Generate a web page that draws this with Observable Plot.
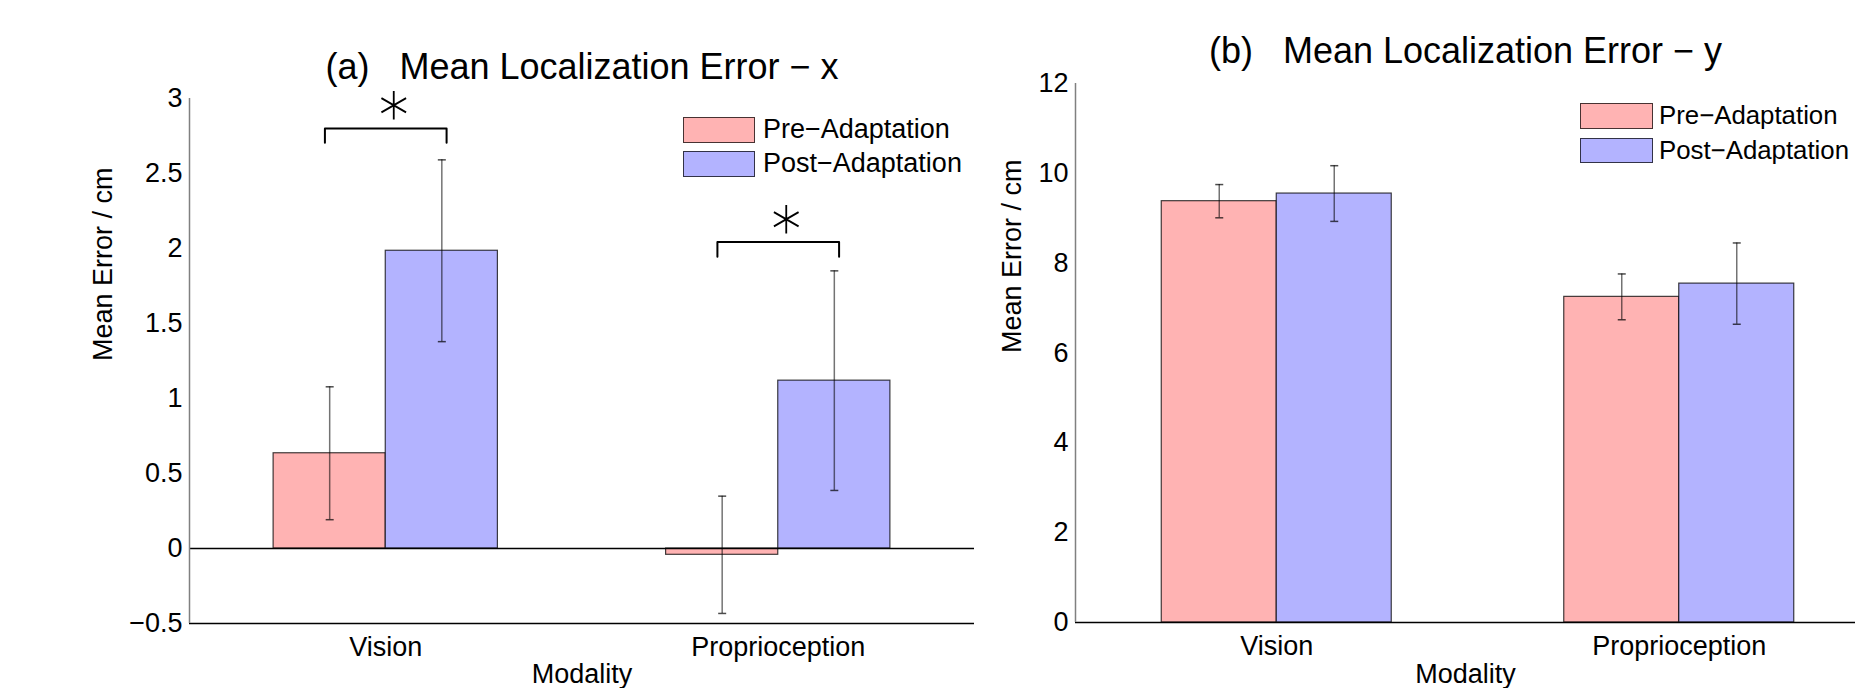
<!DOCTYPE html>
<html>
<head>
<meta charset="utf-8">
<script src="https://cdn.jsdelivr.net/npm/d3@7"></script>
<script src="https://cdn.jsdelivr.net/npm/@observablehq/plot@0.6"></script>
<style>
  body { margin: 0; background: #fff; overflow: hidden; }
  #wrap { position: relative; width: 1855px; height: 688px; overflow: hidden; background: #fff;
          font-family: "Liberation Sans", Arial, Helvetica, sans-serif; }
  #wrap svg { position: absolute; top: 0; }
  .leg { position: absolute; display: flex; align-items: center; white-space: nowrap; color: #000; }
  .sw { box-sizing: border-box; border: 1.5px solid rgba(0,0,0,0.72); flex: none; }
</style>
</head>
<body>
<div id="wrap"></div>
<script>
// ---------- data ----------
const categories = ["Vision", "Proprioception"];
const conditions = ["Pre\u2212Adaptation", "Post\u2212Adaptation"];
const colors = ["#ffb3b3", "#b3b3ff"];

// (a) Mean Localization Error - x
const xPre     = [0.635, -0.042];
const xPost    = [1.985, 1.119];
const xPreErr  = [0.443, 0.391];
const xPostErr = [0.606, 0.732];
const ticksA   = [-0.5, 0, 0.5, 1, 1.5, 2, 2.5, 3];

// (b) Mean Localization Error - y
const yPre     = [9.38, 7.25];
const yPost    = [9.55, 7.545];
const yPreErr  = [0.37, 0.51];
const yPostErr = [0.62, 0.905];
const ticksB   = [0, 2, 4, 6, 8, 10, 12];

// significance brackets in panel (a)
const sigCategory = ["Vision", "Proprioception"];
const sigBracketY = [2.80, 2.044];
const sigLegY     = [2.705, 1.945];
const sigStarY    = [2.955, 2.195];

// ---------- helpers ----------
const BW = 2 / 7; // MATLAB grouped-bar width
function rows(pre, post, preErr, postErr) {
  const out = [];
  categories.forEach((c, i) => {
    const g = i + 1;
    [[pre, preErr], [post, postErr]].forEach(([m, e], j) => {
      out.push({ cat: c, cond: j, x1: g + (j - 1) * BW, x2: g + j * BW,
                 xc: g + (j - 0.5) * BW, v: m[i], lo: m[i] - e[i], hi: m[i] + e[i] });
    });
  });
  return out;
}
const capSymbol = { draw(ctx, size) { const r = Math.sqrt(size / Math.PI); ctx.moveTo(-r, 0); ctx.lineTo(r, 0); } };
const fmt = d => d < 0 ? "\u2212" + (-d) : String(d);
const FONT = "'Liberation Sans', Arial, Helvetica, sans-serif";

function panel(o) {
  const data = rows(...o.series);
  const caps = data.flatMap(d => [{ xc: d.xc, y: d.lo }, { xc: d.xc, y: d.hi }]);
  const marks = [
    Plot.rect(data, { x1: "x1", x2: "x2", y1: 0, y2: "v", fill: d => colors[d.cond],
                      stroke: "#000", strokeOpacity: 0.75, strokeWidth: 1.2 }),
    Plot.ruleX(data, { x: "xc", y1: "lo", y2: "hi", stroke: "#000", strokeOpacity: 0.55, strokeWidth: 1.5 }),
    Plot.dot(caps, { x: "xc", y: "y", symbol: capSymbol, r: 4, fill: "none",
                     stroke: "#000", strokeOpacity: 0.7, strokeWidth: 1.5 }),
    ...o.hlines.map(([v, w]) => Plot.ruleY([v], { stroke: "#000", strokeWidth: w })),
    Plot.ruleX([0.5], { stroke: "#808080", strokeWidth: 1.5 }),
    Plot.text([o.title], { frameAnchor: "top", lineAnchor: "top", dy: o.titleDy, fontSize: 36 }),
    Plot.text(["Mean Error / cm"], { frameAnchor: "left", rotate: -90, lineAnchor: "middle", dx: o.ylabelDx, fontSize: 27 }),
    Plot.text(["Modality"], { frameAnchor: "bottom", lineAnchor: "top", dy: o.xlabelDy, fontSize: 27 })
  ];
  if (o.sig) {
    const pts = [];
    sigCategory.forEach((c, i) => {
      const g = categories.indexOf(c) + 1, h = 0.155;
      pts.push({ k: i, x: g - h, y: sigLegY[i] }, { k: i, x: g - h, y: sigBracketY[i] },
               { k: i, x: g + h, y: sigBracketY[i] }, { k: i, x: g + h, y: sigLegY[i] });
    });
    marks.push(Plot.line(pts, { x: "x", y: "y", z: "k", stroke: "#000", strokeWidth: 2 }));
    marks.push(Plot.dot(sigCategory.map((c, i) => ({ x: categories.indexOf(c) + 1, y: sigStarY[i] })),
      { x: "x", y: "y", symbol: "asterisk", r: 13.5, stroke: "#000", strokeWidth: 1.8, dx: 8 }));
  }
  const svg = Plot.plot({
    width: o.width, height: 688,
    marginLeft: o.marginLeft, marginRight: o.marginRight,
    marginTop: o.marginTop, marginBottom: o.marginBottom,
    style: { fontFamily: FONT, fontSize: "27px", background: "transparent", color: "#000" },
    color: { type: "identity" },
    x: { domain: [0.5, 2.5], ...(o.xRange ? { range: o.xRange } : {}), ticks: [1, 2],
         tickFormat: d => categories[d - 1], tickSize: 0, tickPadding: 13, label: null },
    y: { domain: o.yDomain, ticks: o.ticks, tickFormat: fmt, tickSize: 0, tickPadding: 7, label: null },
    marks
  });
  svg.style.left = o.left + "px";
  return svg;
}

const wrap = document.getElementById("wrap");
wrap.appendChild(panel({
  series: [xPre, xPost, xPreErr, xPostErr], yDomain: [-0.5, 3], ticks: ticksA,
  left: 0, width: 1000, marginLeft: 189, marginRight: 26, marginTop: 98, marginBottom: 65,
  title: "(a)   Mean Localization Error \u2212 x", titleDy: -45.5, ylabelDx: -86, xlabelDy: 40,
  hlines: [[0, 1.3], [-0.5, 1.5]], sig: true
}));
wrap.appendChild(panel({
  series: [yPre, yPost, yPreErr, yPostErr], yDomain: [0, 12], ticks: ticksB,
  left: 960, width: 895, marginLeft: 115, marginRight: 0, marginTop: 83, marginBottom: 66,
  xRange: [115, 920],
  title: "(b)   Mean Localization Error \u2212 y", titleDy: -46, ylabelDx: -63, xlabelDy: 41,
  hlines: [[0, 1.5]], sig: false
}));

// legends
function legend(left, tops, w, h, textLeft, fontSize) {
  conditions.forEach((c, j) => {
    const d = document.createElement("div");
    d.className = "leg";
    d.style.left = left + "px";
    d.style.top = tops[j] + "px";
    d.style.height = h + "px";
    d.style.fontSize = fontSize + "px";
    const sw = document.createElement("div");
    sw.className = "sw";
    sw.style.width = w + "px";
    sw.style.height = h + "px";
    sw.style.background = colors[j];
    sw.style.marginRight = (textLeft - left - w) + "px";
    const t = document.createElement("span");
    t.textContent = c;
    d.appendChild(sw); d.appendChild(t);
    wrap.appendChild(d);
  });
}
legend(683, [117, 151], 72, 25.5, 763, 27);
legend(1580, [103, 137.5], 73, 25.7, 1659, 25.8);
</script>
</body>
</html>
